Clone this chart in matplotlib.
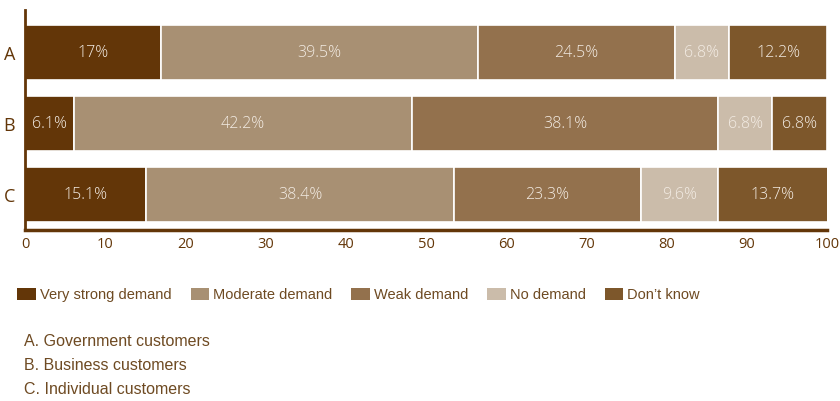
import matplotlib
matplotlib.use("Agg")
import matplotlib.pyplot as plt
from matplotlib.patches import Patch
import numpy as np

categories = ["A", "B", "C"]
series_names = ["Very strong demand", "Moderate demand", "Weak demand", "No demand", "Don\u2019t know"]
very_strong = [17.0, 6.1, 15.1]
moderate = [39.5, 42.2, 38.4]
weak = [24.5, 38.1, 23.3]
no_demand = [6.8, 6.8, 9.6]
dont_know = [12.2, 6.8, 13.7]
label_texts = [
    ["17%", "6.1%", "15.1%"],
    ["39.5%", "42.2%", "38.4%"],
    ["24.5%", "38.1%", "23.3%"],
    ["6.8%", "6.8%", "9.6%"],
    ["12.2%", "6.8%", "13.7%"],
]
xticks = [0, 10, 20, 30, 40, 50, 60, 70, 80, 90, 100]
footnotes = ["A. Government customers", "B. Business customers", "C. Individual customers"]

colors = ["#633608", "#a89073", "#93714d", "#cbbcaa", "#7d572b"]
brown = "#633608"
text_brown = "#6e4a22"

W, H = 840, 401
fig = plt.figure(figsize=(W / 100, H / 100), dpi=100)
ax = fig.add_axes([25 / W, 1 - 230 / H, (827 - 25) / W, 220 / H])

series = [very_strong, moderate, weak, no_demand, dont_know]
y = np.arange(len(categories))
left = np.zeros(len(categories))
for vals, col, labs in zip(series, colors, label_texts):
    vals = np.array(vals)
    ax.barh(y, vals, left=left, height=0.775, color=col, edgecolor="white", linewidth=1.2)
    for i in range(len(categories)):
        ax.text(left[i] + vals[i] / 2, y[i], labs[i], ha="center", va="center",
                color="#f3ece4", fontsize=11.5, family="Open Sans", fontweight="light")
    left += vals

ax.set_xlim(0, 100)
ax.set_ylim(2.5, -0.6)
ax.set_yticks(y)
ax.set_yticklabels(categories)
ax.set_xticks(xticks)
for s in ["top", "right"]:
    ax.spines[s].set_visible(False)
ax.spines["left"].set_color(brown)
ax.spines["left"].set_linewidth(2)
ax.spines["bottom"].set_color(brown)
ax.spines["bottom"].set_linewidth(2.5)
ax.tick_params(axis="both", length=0, colors=brown)
ax.tick_params(axis="x", pad=5, labelsize=10.5)
ax.tick_params(axis="y", pad=7, labelsize=13)
for t in ax.get_xticklabels() + ax.get_yticklabels():
    t.set_family("Open Sans")

handles = [Patch(facecolor=c, edgecolor="none") for c in colors]
leg = fig.legend(handles, series_names, loc="center left", bbox_to_anchor=(13 / W, 1 - 295 / H),
                 ncol=5, frameon=False, handlelength=1.25, handleheight=0.95, handletextpad=0.3,
                 columnspacing=1.3, borderaxespad=0, borderpad=0.3,
                 prop={"family": "Liberation Sans", "size": 10.5})
for t in leg.get_texts():
    t.set_color(text_brown)

for i, f in enumerate(footnotes):
    fig.text(24 / W, 1 - (342 + 23.5 * i) / H, f, ha="left", va="center",
             family="Liberation Sans", fontsize=11.5, color=text_brown)

fig.savefig("out.png", dpi=100)
